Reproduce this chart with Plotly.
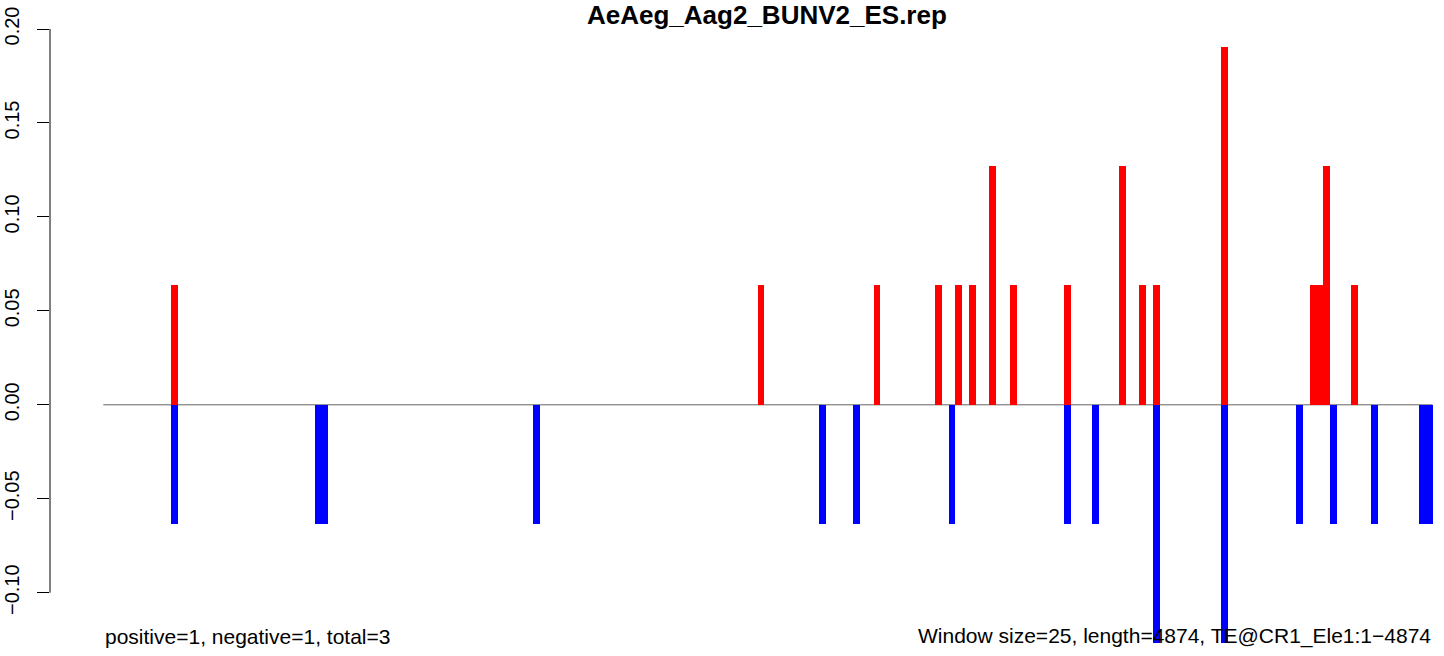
import plotly.graph_objects as go

# Window indices (0-based, window size 25) and normalised values
pos_windows = [10, 96, 113, 122, 125, 127, 130, 133, 141, 149, 152, 154, 164, 177, 178, 179, 183]
pos_values = [0.0635, 0.0635, 0.0635, 0.0635, 0.0635, 0.0635, 0.127, 0.0635, 0.0635,
              0.127, 0.0635, 0.0635, 0.1905, 0.0635, 0.0635, 0.127, 0.0635]
neg_windows = [10, 31, 32, 63, 105, 110, 124, 141, 145, 154, 164, 175, 180, 186, 193, 194]
neg_values = [-0.0635, -0.0635, -0.0635, -0.0635, -0.0635, -0.0635, -0.0635, -0.0635, -0.0635,
              -0.127, -0.127, -0.0635, -0.0635, -0.0635, -0.0635, -0.0635]
n_windows = 195
y_ticks = [-0.10, -0.05, 0.00, 0.05, 0.10, 0.15, 0.20]
y_ticktext = ["\u22120.10", "\u22120.05", "0.00", "0.05", "0.10", "0.15", "0.20"]
title_text = "AeAeg_Aag2_BUNV2_ES.rep"
left_note = "positive=1, negative=1, total=3"
right_note = "Window size=25, length=4874, TE@CR1_Ele1:1\u22124874"

FONT = "Liberation Sans, Arial, Helvetica, sans-serif"

fig = go.Figure()
fig.add_trace(go.Bar(x=[w + 0.5 for w in pos_windows], y=pos_values, width=1,
                     marker=dict(color="#FF0000", line=dict(width=0)), showlegend=False))
fig.add_trace(go.Bar(x=[w + 0.5 for w in neg_windows], y=neg_values, width=1,
                     marker=dict(color="#0000FF", line=dict(width=0)), showlegend=False))

# zero line
fig.add_shape(type="line", xref="x", yref="y", x0=0, x1=n_windows, y0=0, y1=0,
              line=dict(color="#666666", width=1), layer="below")
# y axis line (R style, spanning tick range only)
fig.add_shape(type="line", xref="paper", yref="y", x0=0, x1=0, y0=y_ticks[0], y1=y_ticks[-1],
              line=dict(color="black", width=1))

fig.add_annotation(text="<b>" + title_text + "</b>", xref="paper", yref="paper",
                   x=(767 - 50) / 1390, y=(650 - 15) / 630, showarrow=False,
                   xanchor="center", yanchor="middle", font=dict(family=FONT, size=26, color="black"))
fig.add_annotation(text=left_note, xref="x", yref="paper", x=0, y=(650 - 636) / 630,
                   showarrow=False, xanchor="left", yanchor="middle",
                   font=dict(family=FONT, size=21, color="black"))
fig.add_annotation(text=right_note, xref="x", yref="paper", x=n_windows, y=(650 - 636) / 630,
                   showarrow=False, xanchor="right", yanchor="middle",
                   font=dict(family=FONT, size=21, color="black"))

fig.update_layout(
    width=1444, height=656,
    margin=dict(l=50, r=4, t=20, b=6, autoexpand=False),
    paper_bgcolor="white", plot_bgcolor="white",
    barmode="overlay", bargap=0,
    font=dict(family=FONT, size=20, color="black"),
    xaxis=dict(range=[-7.82, 196.1], showgrid=False, zeroline=False, showline=False,
               showticklabels=False, ticks="", automargin=False),
    yaxis=dict(range=[-0.1305, 0.2048], showgrid=False, zeroline=False, showline=False,
               tickvals=y_ticks, ticktext=y_ticktext, ticks="outside", ticklen=12,
               tickwidth=1, tickcolor="black", tickangle=-90, ticklabelstandoff=10,
               automargin=False,
               tickfont=dict(family=FONT, size=20, color="black")),
)

fig.write_html("out.html", config={"displayModeBar": False},
               post_script="document.body.style.margin='0';")
